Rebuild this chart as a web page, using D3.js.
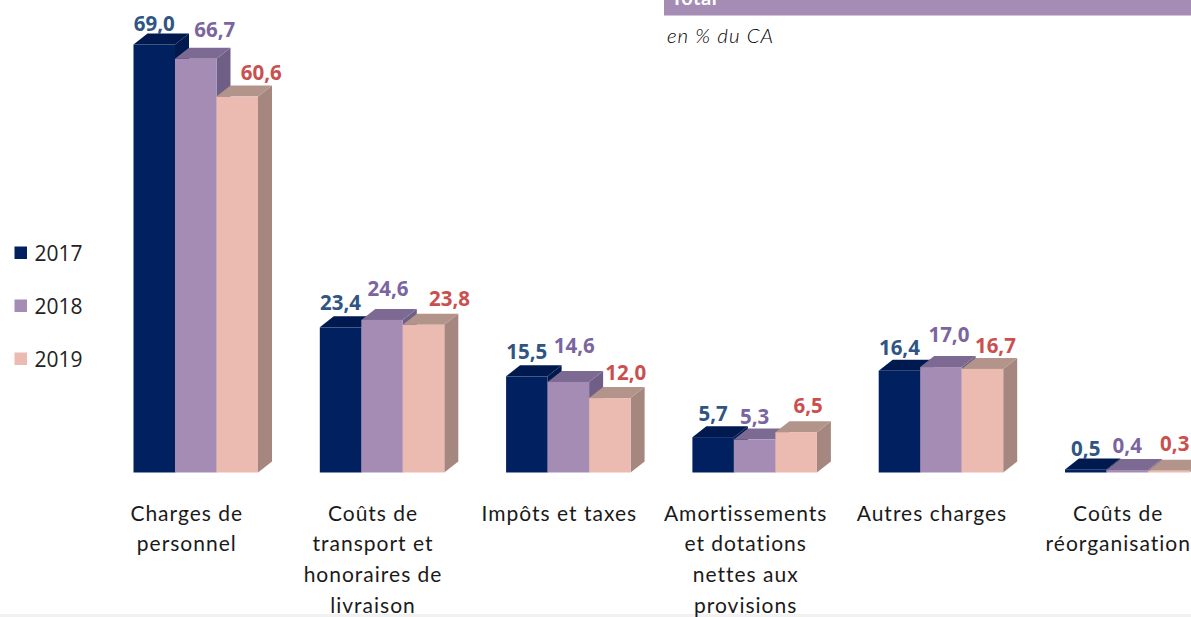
<!DOCTYPE html>
<html><head><meta charset="utf-8">
<script src="https://cdn.jsdelivr.net/npm/d3@7"></script>
<style>html,body{margin:0;padding:0;background:#fff;overflow:hidden}svg{display:block}</style>
</head><body><div id="chart"></div>
<script>
const categories = [
  ["Charges de","personnel"],
  ["Coûts de","transport et","honoraires de","livraison"],
  ["Impôts et taxes"],
  ["Amortissements","et dotations","nettes aux","provisions"],
  ["Autres charges"],
  ["Coûts de","réorganisation"]
];
const years = ["2017","2018","2019"];
const values2017 = [69.0,23.4,15.5,5.7,16.4,0.5];
const values2018 = [66.7,24.6,14.6,5.3,17.0,0.4];
const values2019 = [60.6,23.8,12.0,6.5,16.7,0.3];
const series = [values2017,values2018,values2019];

const frontColors = ["#002060","#a58cb4","#ebbab0"];
const topColors   = ["#001a50","#7d6a92","#b3948b"];
const sideColors  = ["#001a50","#6f5f87","#a5877f"];
const labelColors = ["#2f5583","#7b65a0","#c9504f"];
// hand-placed label offsets of the original, per category then per series
const labelDx = [[0,19,24],[0,6,26],[0,6,16],[0,0,12],[0,8,13],[0,0,6]];
const labelDy = [[-14,-22,-17],[-17,-24,-19],[-17,-29,-18],[-16,-16,-19],[-16,-25,-16],[-13,-17,-20]];

const W=1191,H=617;
const svg=d3.select("#chart").append("svg").attr("width",W).attr("height",H);

const depthX=14, depthY=11;
const x0=d3.scaleBand().domain(d3.range(categories.length)).range([133.5,133.5+6*186.3]);
const barW=41.5;
const x1=d3.scaleBand().domain(d3.range(3)).range([0,3*barW]);
const y=d3.scaleLinear().domain([0,69]).range([472.5,44.5]);

// header strip
svg.append("rect").attr("x",664).attr("y",0).attr("width",W-664).attr("height",15.5).attr("fill","#a58cb4");
svg.append("text").attr("x",671).attr("y",5).attr("fill","#fff").attr("font-family","Lato").attr("font-weight",700).attr("font-size",20).attr("letter-spacing",0.6).text("Total");
svg.append("text").attr("x",667).attr("y",43).attr("fill","#000").attr("font-family","Lato").attr("font-style","italic").attr("font-weight",300).attr("font-size",20.5).attr("letter-spacing",1).text("en % du CA");

// footer strip
svg.append("rect").attr("x",0).attr("y",614).attr("width",W).attr("height",3).attr("fill","#f1f1f1");

// bars: painted left to right so each front covers its left neighbour's depth
categories.forEach((c,i)=>{
  const g=svg.append("g").attr("transform",`translate(${x0(i)},0)`);
  [0,1,2].forEach(s=>{
    const v=series[s][i], bx=x1(s), by=y(v), bw=x1.bandwidth(), b=y(0);
    g.append("path").attr("fill",sideColors[s])
      .attr("d",`M${bx+bw},${by}L${bx+bw+depthX},${by-depthY}L${bx+bw+depthX},${b-depthY}L${bx+bw},${b}Z`);
    g.append("path").attr("fill",topColors[s])
      .attr("d",`M${bx},${by}L${bx+depthX},${by-depthY}L${bx+bw+depthX},${by-depthY}L${bx+bw},${by}Z`);
    g.append("rect").attr("x",bx).attr("y",by).attr("width",bw).attr("height",b-by).attr("fill",frontColors[s]);
  });
});
// labels on top of all bars
categories.forEach((c,i)=>{
  series.forEach((vals,s)=>{
    svg.append("text").attr("text-anchor","middle")
      .attr("x",x0(i)+x1(s)+x1.bandwidth()/2+labelDx[i][s])
      .attr("y",y(vals[i])+labelDy[i][s])
      .attr("fill",labelColors[s])
      .attr("font-family","'Noto Sans'").attr("font-weight",700).attr("font-size",20.5)
      .text(d3.format(".1f")(vals[i]).replace(".",","));
  });
  const cx=x0(i)+x1.bandwidth()*1.5-9;
  categories[i].forEach((line,k)=>{
    svg.append("text").attr("text-anchor","middle").attr("x",cx).attr("y",520.5+k*30.7)
      .attr("fill","#1a1a1a").attr("font-family","Lato").attr("font-size",21).attr("letter-spacing",1)
      .text(line);
  });
});

// legend
const legendY=d3.scalePoint().domain(years).range([253,359]);
years.forEach((yr,s)=>{
  svg.append("rect").attr("x",14.5).attr("y",legendY(yr)-6.5).attr("width",12.5).attr("height",12.5).attr("fill",frontColors[s]);
  svg.append("text").attr("x",34.5).attr("y",legendY(yr)+7.5).attr("fill","#222")
    .attr("font-family","'Open Sans'").attr("font-size",21).text(yr);
});
</script></body></html>
